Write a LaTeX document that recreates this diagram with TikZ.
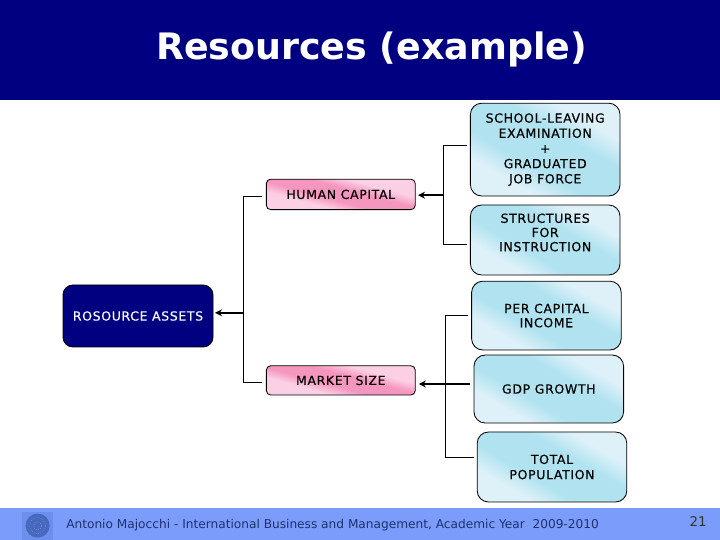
\documentclass[tikz,border=0pt]{standalone}
\usepackage{fontspec}
\setmainfont{DejaVu Sans}
\newfontfamily\boxfont[FakeBold=0.25,LetterSpace=5]{DejaVu Sans}
\definecolor{headnavy}{RGB}{0,0,128}
\definecolor{footblue}{RGB}{124,156,252}
\definecolor{footink}{RGB}{30,50,110}
\definecolor{logoblue}{RGB}{108,142,236}
\definecolor{sealblue}{RGB}{72,104,190}
\definecolor{skydeep}{RGB}{176,226,240}
\definecolor{skylight}{RGB}{222,241,249}
\definecolor{pinkdeep}{RGB}{245,150,190}
\definecolor{pinklight}{RGB}{252,208,228}
\pgfdeclarehorizontalshading{skyshade}{100bp}{color(0bp)=(skylight); color(30bp)=(skylight); color(41bp)=(skydeep); color(59bp)=(skydeep); color(70bp)=(skylight); color(100bp)=(skylight)}
\pgfdeclarehorizontalshading{pinkshade}{100bp}{color(0bp)=(pinklight); color(35bp)=(pinklight); color(44bp)=(pinkdeep); color(56bp)=(pinkdeep); color(65bp)=(pinklight); color(100bp)=(pinklight)}
\usetikzlibrary{arrows.meta}
\tikzset{
  sourcebox/.style={draw=black, line width=0.6pt, rounded corners=8pt, shading=skyshade, shading angle=60, inner sep=0pt, minimum width=3.74cm, align=center, font=\boxfont\fontsize{8.9}{10.8}\selectfont, text=black},
  groupbox/.style={draw=black, line width=0.6pt, rounded corners=3pt, shading=pinkshade, shading angle=75, inner sep=0pt, minimum width=3.72cm, align=center, font=\boxfont\fontsize{8.9}{10}\selectfont, text=black},
  rootbox/.style={draw=black, line width=0.6pt, fill=headnavy, rounded corners=7pt, inner sep=0pt, minimum width=3.75cm, minimum height=1.55cm, align=center, font=\boxfont\fontsize{8.9}{10}\selectfont, text=white},
  bracket/.style={draw=black, line width=0.7pt},
  feed/.style={draw=black, line width=1.3pt, -{Stealth[length=5pt,width=5pt]}}
}
\begin{document}
\begin{tikzpicture}
  \useasboundingbox (0,0) rectangle (18,13.5);

  %% Title band and footer
  \fill[headnavy] (0,11) rectangle (18,13.5);
  \fill[footblue] (0,0) rectangle (18,0.8);
  \fill[logoblue] (0.55,0) rectangle (1.33,0.7);
  \fill[sealblue] (0.94,0.36) circle (0.3);
  \draw[logoblue, line width=0.5pt, densely dotted] (0.94,0.36) circle (0.2);
  \draw[logoblue, line width=0.5pt, densely dotted] (0.94,0.36) circle (0.1);
  \node[font=\bfseries\fontsize{25.9}{30}\selectfont, text=white] (title) at (9.29,12.27) {Resources (example)};
  \node[anchor=west, inner sep=0pt, font=\fontsize{8.65}{10}\selectfont, text=footink] (credit) at (1.65,0.38) {Antonio Majocchi - International Business and Management, Academic Year\ \ 2009-2010};
  \node[inner sep=0pt, font=\fontsize{9.5}{11}\selectfont, text=black!80] (pageno) at (17.45,0.47) {21};

  %% Right column
  \node[sourcebox, minimum height=2.32cm] (school) at (13.63,9.76) {SCHOOL-LEAVING\\EXAMINATION\\+\\GRADUATED\\JOB FORCE};
  \node[sourcebox, minimum height=1.75cm] (structures) at (13.63,7.5) {STRUCTURES\\[-0.7pt]FOR\\[-0.7pt]INSTRUCTION\\ \mbox{}};
  \node[sourcebox, minimum height=1.72cm] (income) at (13.66,5.61) {PER CAPITAL\\[-0.7pt]INCOME};
  \node[sourcebox, minimum height=1.7cm] (growth) at (13.72,3.775) {GDP GROWTH};
  \node[sourcebox, minimum height=1.75cm] (population) at (13.8,1.825) {TOTAL\\POPULATION};

  %% Middle column
  \node[groupbox, minimum height=0.76cm] (human) at (8.52,8.64) {HUMAN CAPITAL};
  \node[groupbox, minimum height=0.73cm] (market) at (8.52,3.99) {MARKET SIZE};

  %% Left column
  \node[rootbox] (assets) at (3.45,5.6) {ROSOURCE ASSETS};

  %% Brackets
  \coordinate (humanbus) at (11.08,8.62);
  \coordinate (marketbus) at (11.13,3.9);
  \coordinate (rootbus) at (6.08,5.68);
  \draw[bracket] ([xshift=-0.08cm,yshift=0.11cm]school.west) -| (humanbus) |- ([xshift=-0.08cm,yshift=-0.1cm]structures.west);
  \draw[bracket] ([xshift=-0.08cm]income.west) -| (marketbus) |- ([xshift=-0.08cm,yshift=0.25cm]population.west);
  \draw[bracket] ([xshift=-0.1cm,yshift=-0.05cm]human.west) -| (rootbus) |- ([xshift=-0.1cm,yshift=-0.06cm]market.west);

  %% Arrows
  \draw[feed] (humanbus) -- ([xshift=0.06cm]humanbus -| human.east);
  \draw[feed] ([xshift=-0.08cm,yshift=0.125cm]growth.west) -- ([xshift=0.08cm,yshift=0.125cm]growth.west -| market.east);
  \draw[feed] (rootbus) -- ([xshift=0.04cm]rootbus -| assets.east);
\end{tikzpicture}
\end{document}
